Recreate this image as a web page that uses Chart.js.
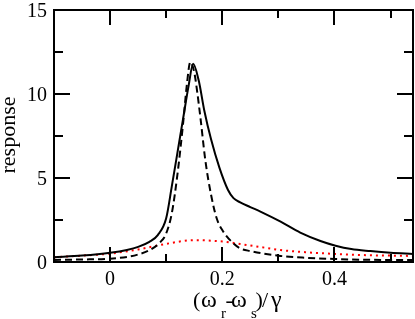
<!DOCTYPE html>
<html>
<head>
<meta charset="utf-8">
<script src="https://cdn.jsdelivr.net/npm/chart.js@4/dist/chart.umd.min.js"></script>
<style>
  html, body { margin: 0; padding: 0; background: #fff; }
  #wrap { width: 415px; height: 319px; position: relative; }
</style>
</head>
<body>
<div id="wrap"><canvas id="myChart" width="415" height="319"></canvas></div>
<script>
// solid curve
let solidX = [-0.1, -0.05, 0, 0.03, 0.05, 0.07, 0.085, 0.1, 0.11, 0.12, 0.13, 0.14, 0.148, 0.158, 0.168, 0.18, 0.195, 0.21, 0.22, 0.232, 0.25, 0.268, 0.304, 0.339, 0.375, 0.402, 0.43, 0.464, 0.5, 0.54];
let solidY = [0.28, 0.38, 0.55, 0.72, 0.9, 1.2, 1.6, 2.6, 4.5, 6.5, 8.5, 10.5, 11.8, 10.8, 9.0, 7.3, 5.6, 4.3, 3.8, 3.55, 3.27, 3.0, 2.4, 1.75, 1.25, 0.97, 0.77, 0.65, 0.55, 0.48];

// dashed curve
let dashX = [-0.1, -0.05, 0, 0.03, 0.05, 0.07, 0.09, 0.1, 0.11, 0.12, 0.13, 0.137, 0.143, 0.15, 0.155, 0.161, 0.17, 0.18, 0.19, 0.2, 0.22, 0.232, 0.25, 0.304, 0.35, 0.4, 0.464, 0.54];
let dashY = [0.12, 0.15, 0.2, 0.3, 0.45, 0.7, 1.2, 1.7, 2.9, 5.2, 8.2, 10.6, 11.9, 11.3, 10.2, 8.6, 6.0, 4.0, 2.6, 1.9, 1.1, 0.81, 0.65, 0.36, 0.25, 0.18, 0.13, 0.12];

// red dotted curve
let dotX = [-0.1, -0.05, 0, 0.05, 0.1, 0.15, 0.2, 0.232, 0.27, 0.304, 0.35, 0.402, 0.464, 0.5, 0.54];
let dotY = [0.28, 0.38, 0.5, 0.75, 1.08, 1.3, 1.22, 1.07, 0.88, 0.71, 0.58, 0.48, 0.4, 0.38, 0.36];

let xMajor = [0, 0.2, 0.4];
let xMinor = [0.1, 0.3, 0.5];
let xTickLabels = ['0', '0.2', '0.4'];
let yMajor = [0, 5, 10, 15];
let yMinor = [2.5, 7.5, 12.5];
let yTickLabels = ['0', '5', '10', '15'];

const FONT = '"Liberation Serif", serif';

function pts(xs, ys) {
    return xs.map((x, i) => ({ x: x, y: ys[i] }));
}

// frame, inward ticks, tick labels and the axis titles
const framePlugin = {
    id: 'frame',
    afterDraw(chart) {
        const ctx = chart.ctx;
        const a = chart.chartArea;
        const xs = chart.scales.x, ys = chart.scales.y;
        ctx.save();
        ctx.strokeStyle = '#000';
        ctx.lineWidth = 2;
        ctx.strokeRect(a.left, a.top, a.right - a.left, a.bottom - a.top);
        ctx.beginPath();
        xMajor.concat(xMinor).forEach(v => {
            const len = xMajor.includes(v) ? 15 : 8;
            const px = Math.round(xs.getPixelForValue(v));
            ctx.moveTo(px, a.bottom); ctx.lineTo(px, a.bottom - len);
            ctx.moveTo(px, a.top); ctx.lineTo(px, a.top + len);
        });
        yMajor.concat(yMinor).forEach(v => {
            const len = yMajor.includes(v) ? 16 : 9;
            const py = Math.round(ys.getPixelForValue(v));
            ctx.moveTo(a.left, py); ctx.lineTo(a.left + len, py);
            ctx.moveTo(a.right, py); ctx.lineTo(a.right - len, py);
        });
        ctx.stroke();

        ctx.fillStyle = '#000';
        ctx.font = '20px ' + FONT;
        ctx.textBaseline = 'alphabetic';
        ctx.textAlign = 'center';
        xMajor.forEach((v, i) => {
            ctx.fillText(xTickLabels[i], xs.getPixelForValue(v), a.bottom + 23);
        });
        ctx.textAlign = 'right';
        yMajor.forEach((v, i) => {
            ctx.fillText(yTickLabels[i], a.left - 7, ys.getPixelForValue(v) + 7);
        });

        // y title
        ctx.font = '22px ' + FONT;
        ctx.save();
        ctx.translate(15, 135);
        ctx.rotate(-Math.PI / 2);
        ctx.textAlign = 'center';
        ctx.fillText('response', 0, 0);
        ctx.restore();

        // x title (ω_r - ω_s)/γ
        ctx.textAlign = 'left';
        const base = 307, subBase = 318;
        const parts = [['(', 22, base, 193], ['ω', 24, base, 201], ['r', 15, subBase, 221], ['-', 22, base, 225.5], ['ω', 24, base, 231], ['s', 15, subBase, 251], [')', 22, base, 255.5], ['/', 22, base, 262], ['γ', 24, base, 271]];
        parts.forEach(p => {
            ctx.font = p[1] + 'px ' + FONT;
            ctx.fillText(p[0], p[3], p[2]);
        });
        ctx.restore();
    }
};

let ctx = document.querySelector('#myChart').getContext('2d');
let myChart = new Chart(ctx, {
    type: 'scatter',
    data: {
        datasets: [
            {
                label: 'solid',
                data: pts(solidX, solidY),
                showLine: true,
                borderColor: '#000',
                borderWidth: 2,
                pointRadius: 0,
                cubicInterpolationMode: 'monotone'
            },
            {
                label: 'dashed',
                data: pts(dashX, dashY),
                showLine: true,
                borderColor: '#000',
                borderWidth: 2,
                borderDash: [7, 4],
                pointRadius: 0,
                cubicInterpolationMode: 'monotone'
            },
            {
                label: 'dotted',
                data: pts(dotX, dotY),
                showLine: true,
                borderColor: '#ff0000',
                borderWidth: 2,
                borderDash: [2, 4],
                pointRadius: 0,
                cubicInterpolationMode: 'monotone'
            }
        ]
    },
    options: {
        responsive: false,
        animation: false,
        events: [],
        clip: false,
        layout: { padding: { top: 10, right: 2, left: 0, bottom: 0 } },
        plugins: { legend: { display: false }, tooltip: { enabled: false } },
        scales: {
            x: {
                type: 'linear',
                min: -0.1,
                max: 0.54,
                grid: { display: false, drawTicks: false },
                border: { display: false },
                ticks: { display: false },
                afterFit: s => { s.height = 57; }
            },
            y: {
                type: 'linear',
                min: 0,
                max: 15,
                grid: { display: false, drawTicks: false },
                border: { display: false },
                ticks: { display: false },
                afterFit: s => { s.width = 54; }
            }
        }
    },
    plugins: [framePlugin]
});
</script>
</body>
</html>
